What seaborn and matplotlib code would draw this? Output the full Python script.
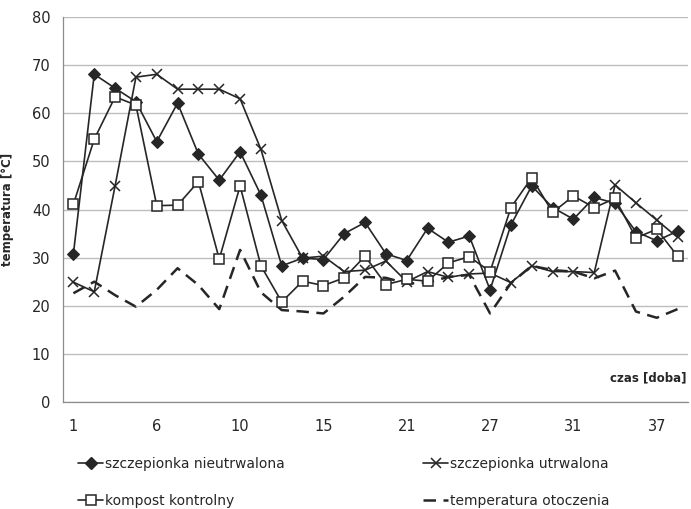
import numpy as np
import pandas as pd
import seaborn as sns
import matplotlib.pyplot as plt
from matplotlib.lines import Line2D

# Daily temperatures of the composting piles (30 measurement days)
day_labels = ["1", "6", "10", "15", "21", "27", "31", "37"]

nieutrwalona = [30.8, 68.1, 65.2, 62.4, 54.1, 62.1, 51.5, 46.1, 52.0, 43.0,
                28.3, 29.9, 29.6, 35.0, 37.3, 30.8, 29.4, 36.1, 33.2, 34.5,
                23.3, 36.8, 44.9, 40.4, 38.0, 42.5, 41.3, 35.4, 33.5, 35.5]
utrwalona = [24.9, 22.9, 44.9, 67.5, 68.1, 65.0, 65.0, 65.0, 63.0, 52.5,
             37.7, 29.9, 30.3, 27.1, 27.4, 29.3, 25.0, 27.1, 25.9, 26.6,
             26.8, 24.8, 28.3, 27.1, 27.1, 26.9, 45.1, 41.4, 37.8, 34.2]
kompost = [41.1, 54.6, 63.4, 61.7, 40.8, 40.9, 45.8, 29.7, 44.9, 28.3,
           20.8, 25.1, 24.2, 25.8, 30.3, 24.4, 25.5, 25.1, 28.9, 30.2,
           27.1, 40.4, 46.6, 39.4, 42.8, 40.4, 42.3, 34.1, 35.9, 30.3]
otoczenie = [22.6, 25.0, 22.2, 19.8, 23.3, 27.8, 24.3, 19.3, 31.6, 22.8,
             19.1, 18.8, 18.4, 21.9, 26.0, 25.8, 24.6, 24.8, 26.0, 26.4,
             18.4, 24.7, 28.3, 27.4, 27.1, 25.7, 27.3, 18.8, 17.5, 19.3]

series_names = ["szczepionka nieutrwalona", "szczepionka utrwalona",
                "kompost kontrolny", "temperatura otoczenia"]

idx = np.arange(len(nieutrwalona))
df = pd.DataFrame({
    "dzien": np.tile(idx, 4),
    "temperatura": nieutrwalona + utrwalona + kompost + otoczenie,
    "seria": np.repeat(series_names, len(idx)),
})

sns.set_style("white")
plt.rcParams["font.family"] = ["Liberation Sans Narrow", "DejaVu Sans"]

fig = plt.figure(figsize=(6.91, 5.09), dpi=100)
ax = fig.add_axes([63 / 691, 1 - 402 / 509, 625 / 691, 385 / 509])

line_col = "#262626"
styles = {
    "szczepionka nieutrwalona": dict(marker="D", markersize=5.8, markerfacecolor=line_col,
                                     markeredgecolor=line_col, linestyle="-", linewidth=1.2),
    "szczepionka utrwalona": dict(marker="x", markersize=6.5, markeredgewidth=1.1,
                                  markeredgecolor=line_col, linestyle="-", linewidth=1.2),
    "kompost kontrolny": dict(marker="s", markersize=7, markerfacecolor="white",
                              markeredgecolor=line_col, markeredgewidth=1.1,
                              linestyle="-", linewidth=1.2),
    "temperatura otoczenia": dict(marker=None, linestyle=(0, (5, 3)), linewidth=1.8),
}

order = ["temperatura otoczenia", "szczepionka utrwalona",
         "szczepionka nieutrwalona", "kompost kontrolny"]
for name in order:
    sub = df[df["seria"] == name]
    sns.lineplot(data=sub, x="dzien", y="temperatura", ax=ax, color=line_col,
                 legend=False, **styles[name])

ax.set_xlim(-0.5, -0.5 + 625 / 21.04)
ax.set_ylim(0, 80)
ax.set_yticks(np.arange(0, 81, 10))
ax.yaxis.grid(True, color="#bdbdbd", linewidth=1.0)
ax.set_axisbelow(True)

ax.set_xticks(np.arange(0, len(idx), 4))
ax.set_xticklabels(day_labels)
ax.set_xticks(np.arange(-0.5, len(idx), 1), minor=True)
ax.tick_params(axis="x", which="major", length=0, pad=12, labelsize=10.5, colors="#262626")
ax.tick_params(axis="x", which="minor", length=4, width=0.8, color="#8c8c8c",
               direction="out")
ax.tick_params(axis="y", length=4, width=0.8, color="#8c8c8c", pad=5,
               labelsize=10.5, labelcolor="#262626")

for s in ["top", "right"]:
    ax.spines[s].set_visible(False)
for s in ["left", "bottom"]:
    ax.spines[s].set_color("#8c8c8c")
    ax.spines[s].set_linewidth(0.9)

ax.set_xlabel("")
ax.set_ylabel("temperatura [°C]", fontsize=8.5, fontweight="bold", color="#262626")
ax.yaxis.set_label_coords(-(63 - 14) / 625, 0.5)
ax.text(0.998, 0.045, "czas [doba]", transform=ax.transAxes, ha="right", va="bottom",
        fontsize=8.5, fontweight="bold", color="#262626")

def handle(name):
    st = dict(styles[name])
    return Line2D([0], [0], color=line_col, **st)

leg_kw = dict(frameon=False, fontsize=10, handlelength=1.8, handletextpad=0.15,
              labelspacing=1.65, labelcolor="#262626", loc="upper left",
              borderaxespad=0, borderpad=0)
leg1 = fig.legend([handle(series_names[0]), handle(series_names[2])],
                  [series_names[0], series_names[2]],
                  bbox_to_anchor=(78 / 691, 1 - 457 / 509), **leg_kw)
leg2 = fig.legend([handle(series_names[1]), handle(series_names[3])],
                  [series_names[1], series_names[3]],
                  bbox_to_anchor=(423 / 691, 1 - 457 / 509), **leg_kw)

fig.savefig("out.png", dpi=100)
